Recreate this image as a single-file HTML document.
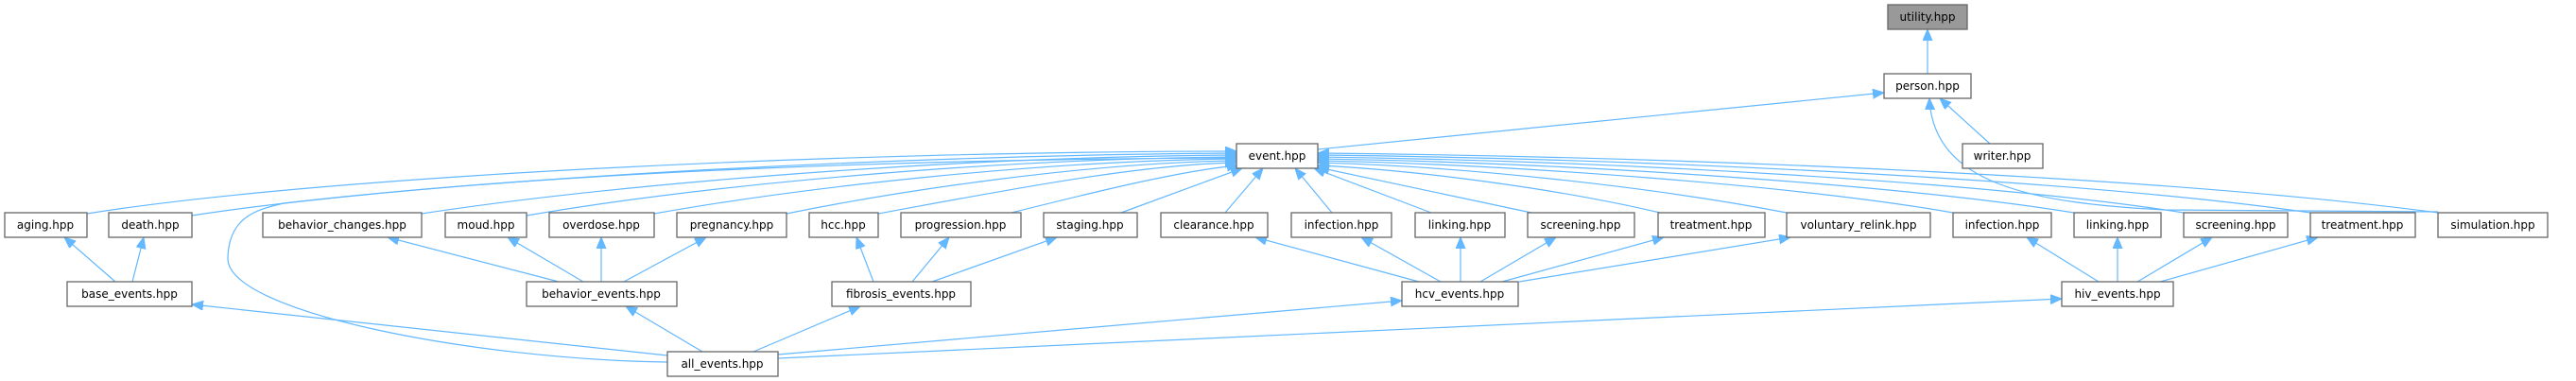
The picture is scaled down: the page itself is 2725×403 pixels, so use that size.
<!DOCTYPE html>
<html><head><meta charset="utf-8"><style>
html,body{margin:0;padding:0;background:#fff;}
svg{display:block}
text{font-family:"DejaVu Sans","Liberation Sans",sans-serif;font-size:12px;fill:#000;text-anchor:middle}
.b{fill:#fff;stroke:#666;stroke-width:1.3}
.e{fill:none;stroke:#63b8ff;stroke-width:1.2;marker-end:url(#a)}
</style></head><body>
<svg width="2725" height="403" viewBox="0 0 2725 403" xmlns="http://www.w3.org/2000/svg">
<defs><marker id="a" markerUnits="userSpaceOnUse" markerWidth="13" markerHeight="11" refX="12" refY="5" orient="auto"><path d="M0,0 L12,5 L0,10 z" fill="#63b8ff" stroke="#63b8ff"/></marker></defs>
<!-- edges -->
<path class="e" d="M2039,78 L2039,31"/>
<path class="e" d="M1394,158 L1993,98"/>
<path class="e" d="M2105,152 L2052,104"/>
<path class="e" d="M2579,224 L2290,222 C2150,215 2045,195 2041,104"/>
<!-- to event from left -->
<path class="e" d="M92,226 C350,185 900,160 1308,160"/>
<path class="e" d="M203,228 C450,190 950,164 1308,162"/>
<path class="e" d="M446,226 C650,195 1000,166 1308,164"/>
<path class="e" d="M557,228 C750,195 1050,168 1308,166"/>
<path class="e" d="M692,226 C850,198 1100,170 1308,168"/>
<path class="e" d="M832,226 C950,202 1150,172 1308,170"/>
<path class="e" d="M929,226 C1050,204 1200,174 1308,172"/>
<path class="e" d="M1070,225 C1150,205 1250,180 1310,175"/>
<path class="e" d="M1186,225 L1314,178"/>
<path class="e" d="M1296,225 L1336,178"/>
<path class="e" d="M1409,225 L1370,178"/>
<path class="e" d="M1514,225 L1390,178"/>
<path class="e" d="M1620,225 L1394,177"/>
<path class="e" d="M1756,225 C1650,200 1500,180 1394,175"/>
<path class="e" d="M1890,225 C1750,198 1550,176 1394,172"/>
<path class="e" d="M2066,225 C1900,196 1600,174 1394,170"/>
<path class="e" d="M2194,225 C2000,194 1650,172 1394,168"/>
<path class="e" d="M2310,225 C2100,192 1700,170 1394,166"/>
<path class="e" d="M2444,225 C2200,190 1750,168 1394,164"/>
<path class="e" d="M2579,225 C2300,188 1800,166 1394,162"/>
<path class="e" d="M706,383 C500,380 240,330 241,273 C242,230 270,222 300,215 C600,180 1000,168 1308,167"/>
<!-- middle -->
<path class="e" d="M122,298 L68,251"/>
<path class="e" d="M140,298 L152,251"/>
<path class="e" d="M591,298 L410,251"/>
<path class="e" d="M617,298 L537,251"/>
<path class="e" d="M636,298 L636,251"/>
<path class="e" d="M660,298 L747,251"/>
<path class="e" d="M924,298 L906,251"/>
<path class="e" d="M965,298 L1004,251"/>
<path class="e" d="M986,298 L1118,251"/>
<path class="e" d="M1501,298 L1328,251"/>
<path class="e" d="M1524,298 L1440,251"/>
<path class="e" d="M1545,298 L1545,251"/>
<path class="e" d="M1566,298 L1646,251"/>
<path class="e" d="M1589,298 L1760,251"/>
<path class="e" d="M1607,298 L1894,251"/>
<path class="e" d="M2220,298 L2144,251"/>
<path class="e" d="M2240,298 L2240,251"/>
<path class="e" d="M2261,298 L2340,251"/>
<path class="e" d="M2285,298 L2452,251"/>
<path class="e" d="M706,376 L203,322"/>
<path class="e" d="M743,372 L662,324"/>
<path class="e" d="M797,372 L910,324"/>
<path class="e" d="M823,375 L1483,318"/>
<path class="e" d="M823,379 L2181,316"/>
<!-- boxes -->
<rect x="1997" y="5" width="84" height="26" fill="#999" stroke="#666" stroke-width="1.3"/><text x="2039" y="22">utility.hpp</text>
<rect class="b" x="1993" y="78" width="92" height="26"/><text x="2039" y="95">person.hpp</text>
<rect class="b" x="1308" y="152" width="86" height="26"/><text x="1351" y="169">event.hpp</text>
<rect class="b" x="2076" y="152" width="85" height="26"/><text x="2118" y="169">writer.hpp</text>
<rect class="b" x="5" y="225" width="87" height="26"/><text x="48" y="242">aging.hpp</text>
<rect class="b" x="115" y="225" width="88" height="26"/><text x="159" y="242">death.hpp</text>
<rect class="b" x="278" y="225" width="168" height="26"/><text x="362" y="242">behavior_changes.hpp</text>
<rect class="b" x="471" y="225" width="86" height="26"/><text x="514" y="242">moud.hpp</text>
<rect class="b" x="581" y="225" width="111" height="26"/><text x="636" y="242">overdose.hpp</text>
<rect class="b" x="716" y="225" width="116" height="26"/><text x="774" y="242">pregnancy.hpp</text>
<rect class="b" x="856" y="225" width="73" height="26"/><text x="892" y="242">hcc.hpp</text>
<rect class="b" x="953" y="225" width="127" height="26"/><text x="1016" y="242">progression.hpp</text>
<rect class="b" x="1104" y="225" width="99" height="26"/><text x="1153" y="242">staging.hpp</text>
<rect class="b" x="1228" y="225" width="113" height="26"/><text x="1284" y="242">clearance.hpp</text>
<rect class="b" x="1366" y="225" width="106" height="26"/><text x="1419" y="242">infection.hpp</text>
<rect class="b" x="1497" y="225" width="95" height="26"/><text x="1544" y="242">linking.hpp</text>
<rect class="b" x="1616" y="225" width="113" height="26"/><text x="1672" y="242">screening.hpp</text>
<rect class="b" x="1754" y="225" width="113" height="26"/><text x="1810" y="242">treatment.hpp</text>
<rect class="b" x="1890" y="225" width="152" height="26"/><text x="1966" y="242">voluntary_relink.hpp</text>
<rect class="b" x="2066" y="225" width="104" height="26"/><text x="2118" y="242">infection.hpp</text>
<rect class="b" x="2194" y="225" width="92" height="26"/><text x="2240" y="242">linking.hpp</text>
<rect class="b" x="2310" y="225" width="110" height="26"/><text x="2365" y="242">screening.hpp</text>
<rect class="b" x="2444" y="225" width="111" height="26"/><text x="2499" y="242">treatment.hpp</text>
<rect class="b" x="2579" y="225" width="116" height="26"/><text x="2637" y="242">simulation.hpp</text>
<rect class="b" x="71" y="298" width="132" height="26"/><text x="137" y="315">base_events.hpp</text>
<rect class="b" x="557" y="298" width="159" height="26"/><text x="636" y="315">behavior_events.hpp</text>
<rect class="b" x="880" y="298" width="147" height="26"/><text x="953" y="315">fibrosis_events.hpp</text>
<rect class="b" x="1483" y="298" width="123" height="26"/><text x="1544" y="315">hcv_events.hpp</text>
<rect class="b" x="2181" y="298" width="118" height="26"/><text x="2240" y="315">hiv_events.hpp</text>
<rect class="b" x="706" y="372" width="117" height="26"/><text x="764" y="389">all_events.hpp</text>
</svg>
</body></html>
